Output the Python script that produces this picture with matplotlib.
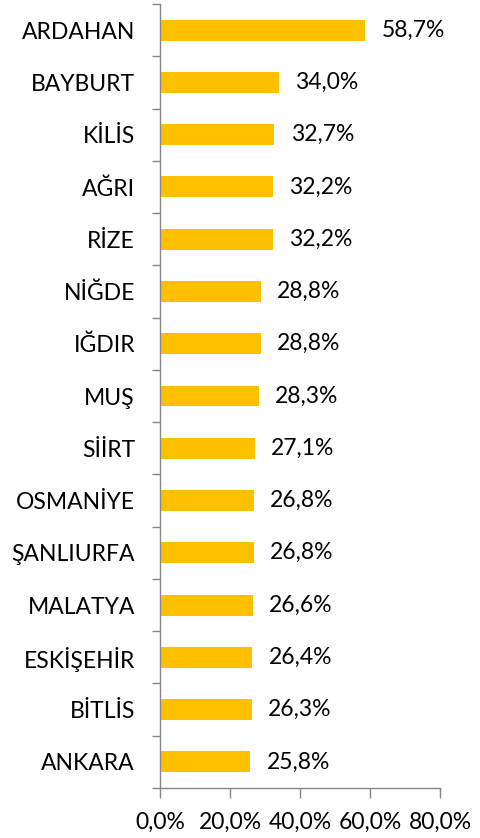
import matplotlib.pyplot as plt
from matplotlib.ticker import FuncFormatter

provinces = ["ARDAHAN", "BAYBURT", "KİLİS", "AĞRI", "RİZE", "NİĞDE", "IĞDIR", "MUŞ",
             "SİİRT", "OSMANİYE", "ŞANLIURFA", "MALATYA", "ESKİŞEHİR", "BİTLİS", "ANKARA"]
values = [58.7, 34.0, 32.7, 32.2, 32.2, 28.8, 28.8, 28.3, 27.1, 26.8, 26.8, 26.6, 26.4, 26.3, 25.8]
ticks = [0, 20, 40, 60, 80]

plt.rcParams['font.family'] = ['Lato', 'DejaVu Sans']

fig = plt.figure(figsize=(4.8, 8.38), dpi=100)
ax = fig.add_axes([160/480, 50/838, 280/480, 784/838])

n = len(values)
ypos = list(range(n))[::-1]
ax.barh(ypos, values, height=0.4, color="#FFC000")
for y, v in zip(ypos, values):
    ax.text(v + 4.6, y, f"{v:.1f}%".replace(".", ","), va="center", ha="left", fontsize=16.5)

ax.set_xlim(0, 80)
ax.set_ylim(-0.5, n - 0.5)
ax.set_xticks(ticks)
ax.xaxis.set_major_formatter(FuncFormatter(lambda x, p: f"{x:.1f}%".replace(".", ",")))
ax.set_yticks(ypos)
ax.set_yticklabels(provinces)
ax.set_yticks([i - 0.5 for i in range(n + 1)], minor=True)
ax.tick_params(axis="y", which="major", length=0, pad=18, labelsize=16.5)
ax.tick_params(axis="y", which="minor", length=6, color="#868686", width=1)
ax.tick_params(axis="x", length=7, color="#868686", width=1, labelsize=16.5, pad=10)
for s in ["top", "right"]:
    ax.spines[s].set_visible(False)
for s in ["left", "bottom"]:
    ax.spines[s].set_color("#868686")
    ax.spines[s].set_linewidth(1)

fig.savefig("out.png", dpi=100)
